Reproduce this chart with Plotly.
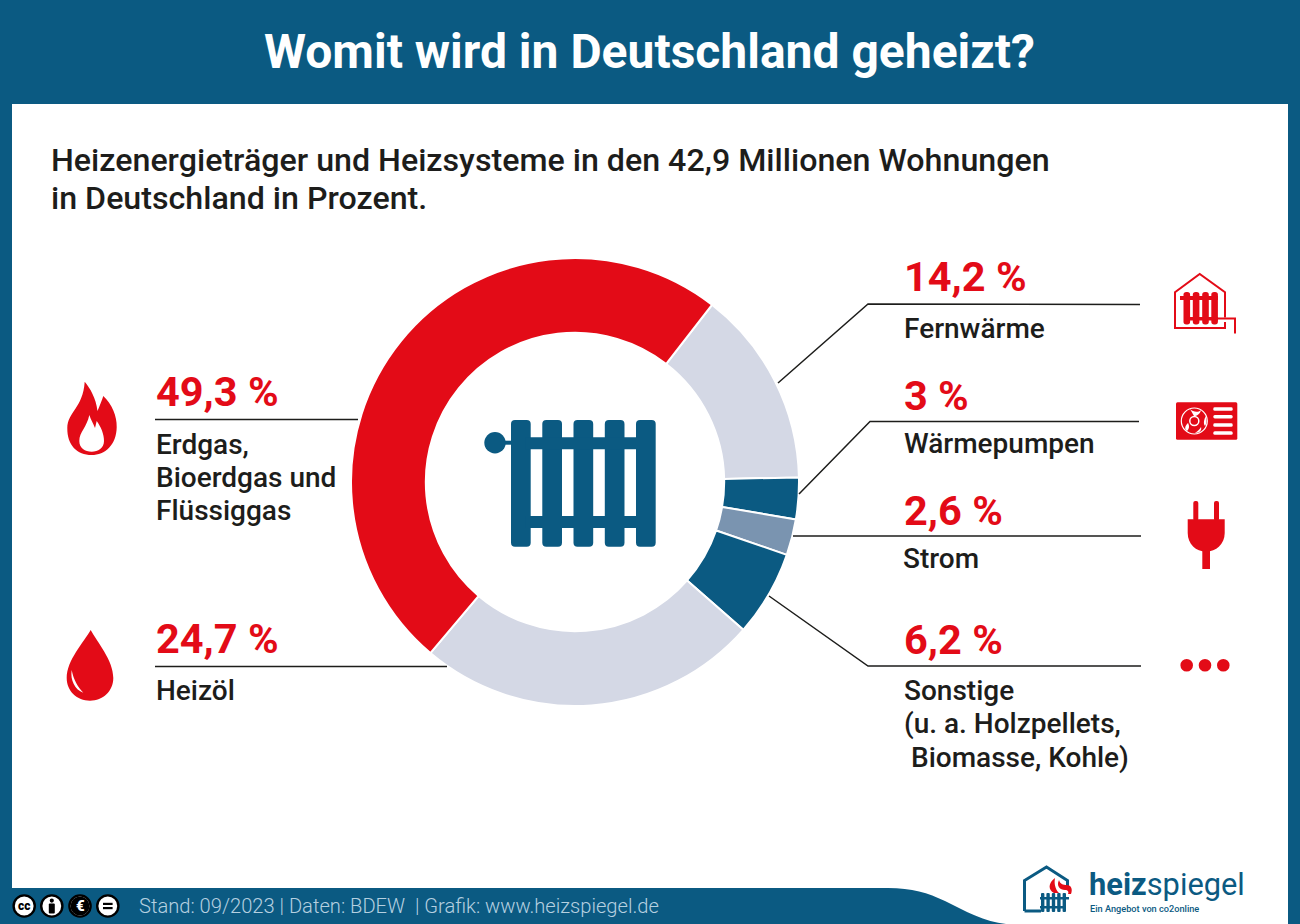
import re
import plotly.graph_objects as go

# ---- data ----
categories = ["Fernwärme", "Wärmepumpen", "Strom", "Sonstige", "Heizöl", "Erdgas, Bioerdgas und Flüssiggas"]
values = [14.2, 3, 2.6, 6.2, 24.7, 49.3]
slice_colors = ["#D4D8E5", "#0B5A82", "#7A94B0", "#0B5A82", "#D4D8E5", "#E30B17"]

title = "Womit wird in Deutschland geheizt?"
subtitle_lines = ["Heizenergieträger und Heizsysteme in den 42,9 Millionen Wohnungen",
                  "in Deutschland in Prozent."]
footer = "Stand: 09/2023 | Daten: BDEW  | Grafik: www.heizspiegel.de"
label_lines = {
    "Fernwärme": ["Fernwärme"],
    "Wärmepumpen": ["Wärmepumpen"],
    "Strom": ["Strom"],
    "Sonstige": ["Sonstige", "(u. a. Holzpellets,", " Biomasse, Kohle)"],
    "Heizöl": ["Heizöl"],
    "Erdgas, Bioerdgas und Flüssiggas": ["Erdgas,", "Bioerdgas und", "Flüssiggas"],
}

BLUE = "#0B5A82"
RED = "#E30B17"
DARK = "#1D1D1B"
FONT = "Roboto"
W, H = 1300, 924


def X(p):
    return p / W


def Y(p):
    return 1 - p / H


def path(d):
    return re.sub(r"(-?[\d.]+)[ ,]+(-?[\d.]+)",
                  lambda m: f"{X(float(m[1])):.5f},{Y(float(m[2])):.5f}", d)


shapes = []


def add_path(d, fill=None, line=None, width=0, layer="above"):
    s = dict(type="path", xref="paper", yref="paper", path=path(d), layer=layer)
    s["fillcolor"] = fill if fill else "rgba(0,0,0,0)"
    s["line"] = dict(color=line, width=width) if line else dict(width=0)
    shapes.append(s)


def add_rect(x0, y0, x1, y1, fill, r=0, layer="above"):
    if r:
        d = (f"M {x0 + r} {y0} L {x1 - r} {y0} Q {x1} {y0} {x1} {y0 + r} L {x1} {y1 - r} "
             f"Q {x1} {y1} {x1 - r} {y1} L {x0 + r} {y1} Q {x0} {y1} {x0} {y1 - r} "
             f"L {x0} {y0 + r} Q {x0} {y0} {x0 + r} {y0} Z")
    else:
        d = f"M {x0} {y0} L {x1} {y0} L {x1} {y1} L {x0} {y1} Z"
    add_path(d, fill=fill, layer=layer)


def add_circle(cx, cy, r, fill=None, line=None, width=0):
    s = dict(type="circle", xref="paper", yref="paper", x0=X(cx - r), x1=X(cx + r),
             y0=Y(cy + r), y1=Y(cy - r), layer="above")
    s["fillcolor"] = fill if fill else "rgba(0,0,0,0)"
    s["line"] = dict(color=line, width=width) if line else dict(width=0)
    shapes.append(s)


annotations = []


def text(x, y, t, size, color=DARK, weight=500, anchor="left"):
    annotations.append(dict(x=X(x), y=Y(y), xref="paper", yref="paper", text=t, showarrow=False,
                            xanchor=anchor, yanchor="middle", borderpad=0,
                            font=dict(family=FONT, size=size, color=color, weight=weight)))


# ---- background ----
add_rect(12, 104, 1288, 924, "#FFFFFF", layer="below")
add_path("M 0 888 L 888 888 C 912 888 928 893 945 901 C 965 911 985 922 1006 924 L 0 924 Z",
         fill=BLUE, layer="below")

# ---- leader lines ----
for d in ["M 778 383 L 868 304 L 1140 304.5", "M 799 494 L 870 421.5 L 1139 421.5",
          "M 793 536 L 1141 536", "M 769 596 L 868 666 L 1141 666",
          "M 155 419.5 L 358 419.5", "M 155 666.5 L 447 666.5"]:
    add_path(d, line=DARK, width=1.5)

# ---- central radiator ----
for x0 in [511, 542.3, 573.5, 604.8, 636]:
    add_rect(x0, 420, x0 + 19.7, 546.7, BLUE, r=4)
add_rect(525, 437.3, 640, 449.3, BLUE)
add_rect(525, 516, 640, 528, BLUE)
add_rect(503, 440.7, 512, 444.7, BLUE)
add_circle(495, 442.7, 10.7, fill=BLUE)

# ---- flame ----
add_path("M 84.7 381.7 C 90 388 96 398 97.5 411 C 100 405 102 400 103.3 396 C 112 404 117 416 116.7 427 "
         "C 116.5 445 105 455 91.7 455 C 77 455 67 445 67.3 428 C 67.5 412 83 408 84.7 381.7 Z", fill=RED)
add_path("M 89.3 415 C 91 420 93 423 95 428 L 96.7 421 C 101 427 104 434 104 441 C 104 448 98 451.7 91.7 451.7 "
         "C 85 451.7 79.3 448 79.3 441 C 79.3 432 87 427 89.3 415 Z", fill="#FFFFFF")

# ---- drop ----
add_path("M 90.7 630 C 97 642 113.3 660 113.3 678 C 113.3 691 103 700.7 90 700.7 C 77 700.7 66.7 691 66.7 678 "
         "C 66.7 660 84 642 90.7 630 Z", fill=RED)
add_path("M 71.7 670 C 70 680 75 690 83.3 692.7 C 78 687 73.5 680 71.7 670 Z", fill="#FFFFFF")

# ---- house with radiator ----
add_path("M 1225 317.5 L 1225 292.3 L 1199.7 274 L 1175 292.3 L 1175 328 L 1225 328 L 1225 322",
         line=RED, width=2)
add_path("M 1216 318.5 L 1235 318.5 L 1235 333.5", line=RED, width=2)
for x0 in [1183.5, 1192.8, 1202.2, 1211.3]:
    add_rect(x0, 292, x0 + 6.6, 324.5, RED, r=2.8)
add_rect(1180, 296, 1218, 300, RED)
add_rect(1184, 317, 1218, 320.5, RED)

# ---- heat pump ----
add_rect(1176, 402.3, 1237.3, 439.7, RED, r=1.5)
add_circle(1194.3, 421, 13, line="#FFFFFF", width=1.2)
add_circle(1194.3, 421, 4.5, line="#FFFFFF", width=1.5)
add_path("M 1190 409 C 1193 412 1198 413 1201 410 C 1200 414 1197 416 1194 416 Z", fill="#FFFFFF")
add_path("M 1205 426 C 1203 424 1204 419 1206 416 C 1207 421 1206 425 1205 426 Z", fill="#FFFFFF")
add_path("M 1187 431 C 1190 428 1189 425 1188 423 C 1185 426 1184 429 1187 431 Z", fill="#FFFFFF")
add_path("M 1195 433 C 1198 431 1200 429 1201 427 C 1202 430 1200 433 1195 433 Z", fill="#FFFFFF")
for y0 in [409, 416.7, 425, 433]:
    add_rect(1213.3, y0 - 1.7, 1232.7, y0 + 1.7, "#FFFFFF", r=1.5)

# ---- plug ----
add_rect(1193.3, 501, 1198.3, 521, RED, r=2)
add_rect(1214, 501, 1219, 521, RED, r=2)
add_path("M 1187.7 519.3 L 1224.7 519.3 L 1224.7 533 C 1224.7 544 1216 551.7 1206 551.7 "
         "C 1196 551.7 1187.7 544 1187.7 533 Z", fill=RED)
add_rect(1202.3, 550, 1210, 569, RED)

# ---- dots ----
for cx in [1186.7, 1205, 1223.3]:
    add_circle(cx, 665.3, 6.3, fill=RED)

# ---- logo ----
add_path("M 1024.5 911 L 1024.5 880.5 L 1046.5 867 L 1067.5 880.5 L 1067.5 890", line=BLUE, width=3)
add_path("M 1024.5 911 L 1041 911", line=BLUE, width=3)
for x0 in [1041, 1046.4, 1051.8, 1057.2, 1062.6]:
    add_rect(x0, 893, x0 + 3.4, 912, BLUE, r=1)
add_rect(1040, 897, 1069, 899.5, BLUE)
add_rect(1040, 906, 1066, 908.5, BLUE)
add_path("M 1055 878 C 1048 883 1048 890 1054 893 L 1059 893 C 1055 889 1054 883 1055 878 Z", fill=RED)
add_path("M 1059 880 C 1056 886 1060 890 1065 890 C 1068 890 1069 892 1068 894 L 1071 894 "
         "C 1073 889 1071 885 1067 885 C 1063 885 1060 884 1059 880 Z", fill=RED)

# ---- CC badges ----
for cx in [24.2, 51.8, 80, 107.8]:
    add_circle(cx, 906, 10.6, fill="#FFFFFF", line="#000000", width=2.4)
add_circle(51.8, 900.6, 2.1, fill="#000000")
add_rect(48.8, 903.5, 54.8, 913.5, "#000000", r=1)
add_circle(80, 906, 9.5, fill="#000000")
add_rect(103, 902.8, 112.6, 905, "#000000")
add_rect(103, 907, 112.6, 909.2, "#000000")
text(24.2, 905.6, "cc", 12, color="#000000", weight=900, anchor="center")
text(80, 905.6, "€", 15, color="#FFFFFF", weight=900, anchor="center")

# ---- texts ----
text(649.5, 51, title, 48, color="#FFFFFF", weight=700, anchor="center")
text(49.5, 160, subtitle_lines[0], 32.2)
text(49.5, 198, subtitle_lines[1], 32.2)


def pct(v):
    return str(v).replace(".", ",") + " %"


num_pos = {"Fernwärme": (902.5, 277), "Wärmepumpen": (902.5, 395), "Strom": (902.5, 510), "Sonstige": (902.5, 639),
           "Heizöl": (154.5, 638), "Erdgas, Bioerdgas und Flüssiggas": (154.5, 391)}
lab_pos = {"Fernwärme": (902.5, 328), "Wärmepumpen": (902.5, 443.5), "Strom": (901.5, 558), "Sonstige": (902.5, 690),
           "Heizöl": (154.5, 690), "Erdgas, Bioerdgas und Flüssiggas": (154.5, 444)}
for cat, val in zip(categories, values):
    nx, ny = num_pos[cat]
    text(nx, ny, pct(val), 41.5, color=RED, weight=700)
    lx, ly = lab_pos[cat]
    for i, line in enumerate(label_lines[cat]):
        text(lx, ly + i * 33.5, line.replace(" ", "\u00a0", 1) if line.startswith(" ") else line, 28)

text(138, 906, footer, 20.15, color="#B5D0E0", weight=300)
text(1088, 884, "<b>heiz</b>spiegel", 30.8, color=BLUE, weight=400)
text(1089, 908, "Ein Angebot von co2online", 9.2, color=BLUE, weight=500)

fig = go.Figure(go.Pie(
    labels=categories, values=values, sort=False, direction="clockwise", rotation=37.7,
    hole=0.666, marker=dict(colors=slice_colors, line=dict(color="#FFFFFF", width=2)),
    textinfo="none", hoverinfo="skip", showlegend=False,
    domain=dict(x=[X(351), X(799)], y=[Y(706), Y(258)]),
))
fig.update_layout(width=W, height=H, margin=dict(l=0, r=0, t=0, b=0), paper_bgcolor=BLUE,
                  shapes=shapes, annotations=annotations, showlegend=False)
fig.write_html("out.html", post_script="document.body.style.margin='0';",
               config=dict(displayModeBar=False))
